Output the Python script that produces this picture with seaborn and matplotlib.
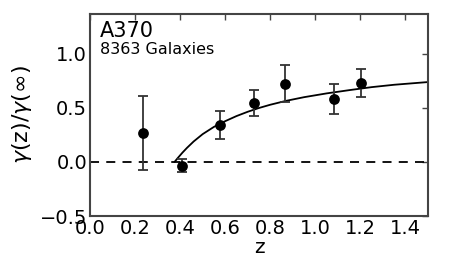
import matplotlib
matplotlib.use("Agg")
import matplotlib.pyplot as plt
import seaborn as sns
import pandas as pd

# Data
z_obs = [0.234, 0.407, 0.579, 0.729, 0.867, 1.081, 1.203]
ratio_obs = [0.268, -0.035, 0.343, 0.546, 0.725, 0.583, 0.731]
ratio_err = [0.345, 0.062, 0.128, 0.116, 0.170, 0.142, 0.130]

z_model = [0.375, 0.39, 0.41, 0.43, 0.46, 0.50, 0.55, 0.60, 0.65, 0.70,
           0.75, 0.80, 0.87, 0.95, 1.05, 1.15, 1.25, 1.35, 1.50]
ratio_model = [0.000, 0.038, 0.086, 0.130, 0.190, 0.258, 0.325, 0.378, 0.425,
               0.465, 0.500, 0.530, 0.566, 0.600, 0.635, 0.665, 0.693, 0.715,
               0.740]

xticks = [0.0, 0.2, 0.4, 0.6, 0.8, 1.0, 1.2, 1.4]
yticks = [-0.5, 0.0, 0.5, 1.0]

obs = pd.DataFrame({"z": z_obs, "r": ratio_obs, "e": ratio_err})
model = pd.DataFrame({"z": z_model, "r": ratio_model})

sns.set_style("white")
plt.rcParams["font.family"] = ["DejaVu Sans"]
plt.rcParams["text.color"] = "black"
plt.rcParams["axes.labelcolor"] = "black"

fig = plt.figure(figsize=(4.5, 2.7), dpi=100)
ax = fig.add_axes([90 / 450, 54 / 270, 338 / 450, 202 / 270])

ax.axhline(0, color="black", lw=1.3, ls=(0, (5, 4)), zorder=1)
sns.lineplot(data=model, x="z", y="r", ax=ax, color="black", lw=1.3,
             zorder=2, legend=False)
ax.errorbar(obs["z"], obs["r"], yerr=obs["e"], fmt="none", ecolor="#333333",
            elinewidth=1.3, capsize=3.5, capthick=1.3, zorder=3)
sns.scatterplot(data=obs, x="z", y="r", ax=ax, color="black", s=60,
                edgecolor="black", linewidth=0, zorder=4, legend=False)

ax.set_xlim(0.0, 1.5)
ax.set_ylim(-0.5, 1.37)
ax.set_xticks(xticks)
ax.set_yticks(yticks)
ax.set_xticklabels([f"{t:.1f}" for t in xticks])
ax.set_yticklabels([f"{t:.1f}".replace("-", "\u2212") for t in yticks])
ax.tick_params(direction="in", length=4, width=1, colors="#444444",
               labelcolor="black", labelsize=14, top=True, right=True, pad=2)
for s in ax.spines.values():
    s.set_color("#444444")
    s.set_linewidth(1.5)

ax.set_xlabel("z", fontsize=14.5, labelpad=0)
ax.set_ylabel(r"$\gamma$(z)/$\gamma$($\infty$)", fontsize=16, labelpad=4)

ax.text(0.03, 0.886, "A370", transform=ax.transAxes, fontsize=15, ha="left",
        va="baseline")
ax.text(0.03, 0.802, "8363 Galaxies", transform=ax.transAxes, fontsize=11.5,
        ha="left", va="baseline")

fig.savefig("out.png", dpi=100)
